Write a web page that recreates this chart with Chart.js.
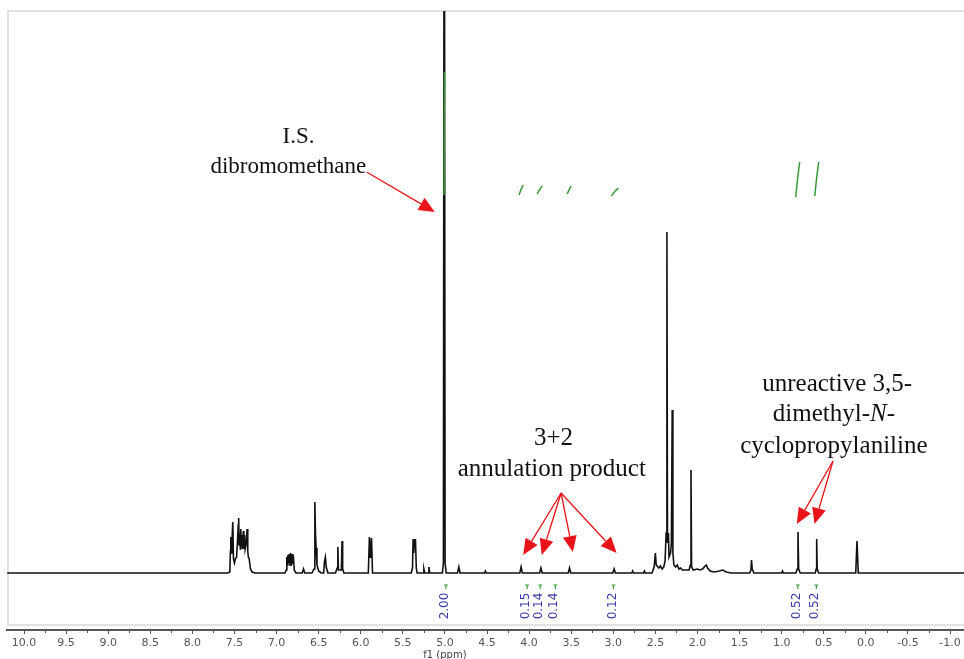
<!DOCTYPE html>
<html>
<head>
<meta charset="utf-8">
<script src="https://cdn.jsdelivr.net/npm/chart.js@4.4.0/dist/chart.umd.min.js"></script>
<style>
  html, body { margin: 0; padding: 0; background: #fff; }
  #wrap { width: 964px; height: 659px; }
</style>
</head>
<body>
<div id="wrap"><canvas id="nmr"></canvas></div>
<script>
// spectrum vertices (ppm, intensity in arbitrary units)
const ppmShift = [
  10.2, 7.58, 7.555, 7.548, 7.544, 7.538, 7.53, 7.52, 7.512, 7.5, 7.49, 7.475, 7.465, 7.455, 7.45, 7.445,
  7.437, 7.43, 7.425, 7.418, 7.41, 7.403, 7.395, 7.388, 7.38, 7.373, 7.36, 7.35, 7.342, 7.335, 7.325, 7.31,
  7.29, 7.26, 6.9, 6.885, 6.878, 6.87, 6.865, 6.858, 6.85, 6.84, 6.835, 6.825, 6.815, 6.805, 6.8, 6.79,
  6.77, 6.695, 6.68, 6.665, 6.58, 6.555, 6.545, 6.538, 6.53, 6.52, 6.5, 6.47, 6.44, 6.43, 6.42, 6.41,
  6.39, 6.3, 6.28, 6.272, 6.265, 6.23, 6.222, 6.215, 6.2, 5.91, 5.897, 5.885, 5.872, 5.86, 5.4, 5.385,
  5.378, 5.37, 5.362, 5.355, 5.35, 5.34, 5.33, 5.26, 5.25, 5.24, 5.2, 5.19, 5.18, 5.03, 5.018, 5.008,
  4.998, 4.985, 4.85, 4.835, 4.82, 4.53, 4.52, 4.51, 4.11, 4.095, 4.08, 3.875, 3.86, 3.845, 3.535, 3.52,
  3.505, 3.005, 2.99, 2.975, 2.78, 2.77, 2.76, 2.64, 2.63, 2.62, 2.54, 2.515, 2.5, 2.49, 2.46, 2.44,
  2.42, 2.4, 2.385, 2.372, 2.363, 2.356, 2.345, 2.338, 2.32, 2.31, 2.3, 2.292, 2.28, 2.26, 2.24, 2.22,
  2.2, 2.18, 2.15, 2.1, 2.085, 2.077, 2.07, 2.05, 2.0, 1.97, 1.94, 1.91, 1.895, 1.88, 1.85, 1.8,
  1.74, 1.7, 1.66, 1.6, 1.38, 1.365, 1.358, 1.35, 1.33, 1.0, 0.99, 0.98, 0.83, 0.815, 0.806, 0.798,
  0.78, 0.6, 0.59, 0.584, 0.578, 0.56, 0.12, 0.105, 0.09, -1.2
];
const intensity = [
  0, 0, 1, 22, 36, 20, 30, 51, 14, 10, 14, 16, 30, 48, 55, 28,
  40, 24, 44, 26, 38, 24, 42, 24, 38, 24, 30, 44, 22, 16, 14, 4,
  1, 0, 0, 3, 16, 8, 18, 10, 19, 8, 20, 7, 19, 9, 17, 3,
  0, 0, 4, 0, 0, 4, 71, 40, 25, 8, 2, 0, 0, 12, 16, 6,
  0, 0, 5, 26, 3, 3, 32, 4, 0, 0, 36, 15, 35, 0, 0, 5,
  34, 20, 34, 30, 34, 5, 0, 0, 4, 0, 0, 6, 0, 0, 10, 900,
  10, 0, 0, 6, 0, 0, 2, 0, 0, 6, 0, 0, 5, 0, 0, 5,
  0, 0, 4, 0, 0, 2, 0, 0, 2, 0, 0, 6, 20, 8, 5, 7,
  4, 6, 12, 40, 341, 30, 40, 16, 20, 30, 163, 20, 8, 6, 8, 4,
  5, 3, 3, 3, 8, 103, 6, 3, 4, 3, 4, 7, 8, 5, 2, 1,
  2, 3, 1, 0, 0, 3, 13, 4, 0, 0, 2, 0, 0, 4, 41, 4,
  0, 0, 4, 34, 4, 0, 0, 32, 0, 0
];

// integral curves (green): start/end ppm and level
const integralFrom = [5.01, 4.12, 3.905, 3.548, 3.024, 0.833, 0.607];
const integralTo = [5.005, 4.07, 3.845, 3.5, 2.94, 0.786, 0.56];
const integralLow = [378, 378, 379, 379, 377, 376, 377];
const integralHigh = [501, 388, 387, 387, 385, 411, 411];

// integral values printed under the baseline
const integralText = ["2.00", "0.15", "0.14", "0.14", "0.12", "0.52", "0.52"];
const integralLabelPpm = [5.0, 4.036, 3.88, 3.7, 3.01, 0.82, 0.6];

const spectrum = ppmShift.map((x, i) => ({ x: x, y: intensity[i] }));

const integralSets = integralFrom.map((x, i) => ({
  data: [
    { x: x, y: integralLow[i] },
    { x: (x + integralTo[i]) / 2, y: (integralLow[i] * 0.45 + integralHigh[i] * 0.55) },
    { x: integralTo[i], y: integralHigh[i] },
  ],
  showLine: true,
  borderColor: "#3a9a3a",
  borderWidth: 1.5,
  pointRadius: 0,
  tension: 0.3,
  order: 0,
}));

function drawArrow(ctx, x1, y1, x2, y2) {
  const ang = Math.atan2(y2 - y1, x2 - x1);
  const len = 16;
  const half = 7;
  const bx = x2 - len * Math.cos(ang);
  const by = y2 - len * Math.sin(ang);
  ctx.beginPath();
  ctx.moveTo(x1, y1);
  ctx.lineTo(bx, by);
  ctx.stroke();
  ctx.beginPath();
  ctx.moveTo(x2, y2);
  ctx.lineTo(bx + half * Math.sin(ang), by - half * Math.cos(ang));
  ctx.lineTo(bx - half * Math.sin(ang), by + half * Math.cos(ang));
  ctx.closePath();
  ctx.fill();
}

const decorPlugin = {
  id: "decor",
  beforeDatasetsDraw(chart) {
    const { ctx, chartArea } = chart;
    ctx.save();
    ctx.strokeStyle = "#e2e2e2";
    ctx.lineWidth = 2;
    ctx.strokeRect(chartArea.left + 1, chartArea.top, chartArea.right - chartArea.left + 10, chartArea.bottom - chartArea.top - 5);
    ctx.restore();
  },
  afterDatasetsDraw(chart) {
    const { ctx, chartArea } = chart;
    const xs = chart.scales.x;
    const ys = chart.scales.y;
    const px = (v) => xs.getPixelForValue(v);
    const py = (v) => ys.getPixelForValue(v);
    ctx.save();

    // minor ticks
    ctx.strokeStyle = "#555";
    ctx.lineWidth = 1;
    for (let v = -0.75; v < 10; v += 0.5) {
      ctx.beginPath();
      ctx.moveTo(Math.round(px(v)) + 0.5, chartArea.bottom);
      ctx.lineTo(Math.round(px(v)) + 0.5, chartArea.bottom + 3);
      ctx.stroke();
    }

    // axis title
    ctx.fillStyle = "#444";
    ctx.font = '10px "DejaVu Sans"';
    ctx.textAlign = "center";
    ctx.textBaseline = "middle";
    ctx.fillText("f1 (ppm)", px(5.0), chartArea.bottom + 25);

    // integral values
    ctx.font = '12px "DejaVu Sans"';
    integralText.forEach((t, i) => {
      const x = px(integralLabelPpm[i]);
      const y = py(-33);
      ctx.save();
      ctx.translate(x, y);
      ctx.rotate(-Math.PI / 2);
      ctx.fillStyle = "#3838a8";
      ctx.fillText(t, 0, 0);
      ctx.restore();
      ctx.strokeStyle = "#3a9a3a";
      ctx.lineWidth = 1.2;
      const top = py(-33) - 17;
      ctx.beginPath();
      ctx.moveTo(x + 1, top);
      ctx.lineTo(x + 1, top - 4);
      ctx.moveTo(x - 1, top - 4);
      ctx.lineTo(x + 3, top - 4);
      ctx.stroke();
    });

    // annotations
    ctx.fillStyle = "#111";
    ctx.font = '23px "Liberation Serif"';
    ctx.fillText("I.S.", px(6.74), py(436));
    ctx.fillText("dibromomethane", px(6.86), py(406));
    ctx.font = '25px "Liberation Serif"';
    ctx.fillText("3+2", px(3.71), py(135));
    ctx.fillText("annulation product", px(3.73), py(104));
    ctx.fillText("unreactive 3,5-", px(0.34), py(189));
    ctx.fillText("cyclopropylaniline", px(0.38), py(127));

    // dimethyl-N- with italic N
    const parts = [["dimethyl-", '25px "Liberation Serif"'], ["N", 'italic 25px "Liberation Serif"'], ["-", '25px "Liberation Serif"']];
    let total = 0;
    parts.forEach((p) => { ctx.font = p[1]; total += ctx.measureText(p[0]).width; });
    let cx = px(0.38) - total / 2;
    ctx.textAlign = "left";
    parts.forEach((p) => {
      ctx.font = p[1];
      ctx.fillText(p[0], cx, py(159));
      cx += ctx.measureText(p[0]).width;
    });

    // red arrows
    ctx.strokeStyle = "#e8141a";
    ctx.fillStyle = "#e8141a";
    ctx.lineWidth = 1.3;
    drawArrow(ctx, px(5.93), py(401), px(5.12), py(361));
    [[4.07, 18], [3.85, 18], [3.48, 21], [2.96, 20]].forEach((t) => {
      drawArrow(ctx, px(3.62), py(80), px(t[0]), py(t[1]));
    });
    [[0.82, 49], [0.61, 49]].forEach((t) => {
      drawArrow(ctx, px(0.39), py(112), px(t[0]), py(t[1]));
    });

    ctx.restore();
  },
};

new Chart(document.getElementById("nmr").getContext("2d"), {
  type: "scatter",
  data: {
    datasets: [
      ...integralSets,
      {
        data: spectrum,
        showLine: true,
        borderColor: "#111",
        borderWidth: 1.6,
        pointRadius: 0,
        tension: 0,
        order: 1,
      },
    ],
  },
  options: {
    responsive: true,
    maintainAspectRatio: false,
    animation: false,
    layout: { padding: { left: 7, top: 11, right: 0, bottom: 0 } },
    plugins: {
      legend: { display: false },
      tooltip: { enabled: false },
    },
    scales: {
      x: {
        type: "linear",
        reverse: true,
        min: -1.166,
        max: 10.202,
        ticks: {
          stepSize: 0.5,
          includeBounds: false,
          autoSkip: false,
          maxRotation: 0,
          padding: 3,
          color: "#555",
          font: { family: "DejaVu Sans", size: 11 },
          callback: (v) => v.toFixed(1),
        },
        grid: { drawOnChartArea: false, tickLength: 4, color: "#555" },
        border: { color: "#555", width: 2 },
        afterFit: (scale) => { scale.height = 29; },
      },
      y: { display: false, min: -57, max: 562 },
    },
  },
  plugins: [decorPlugin],
});
</script>
</body>
</html>
